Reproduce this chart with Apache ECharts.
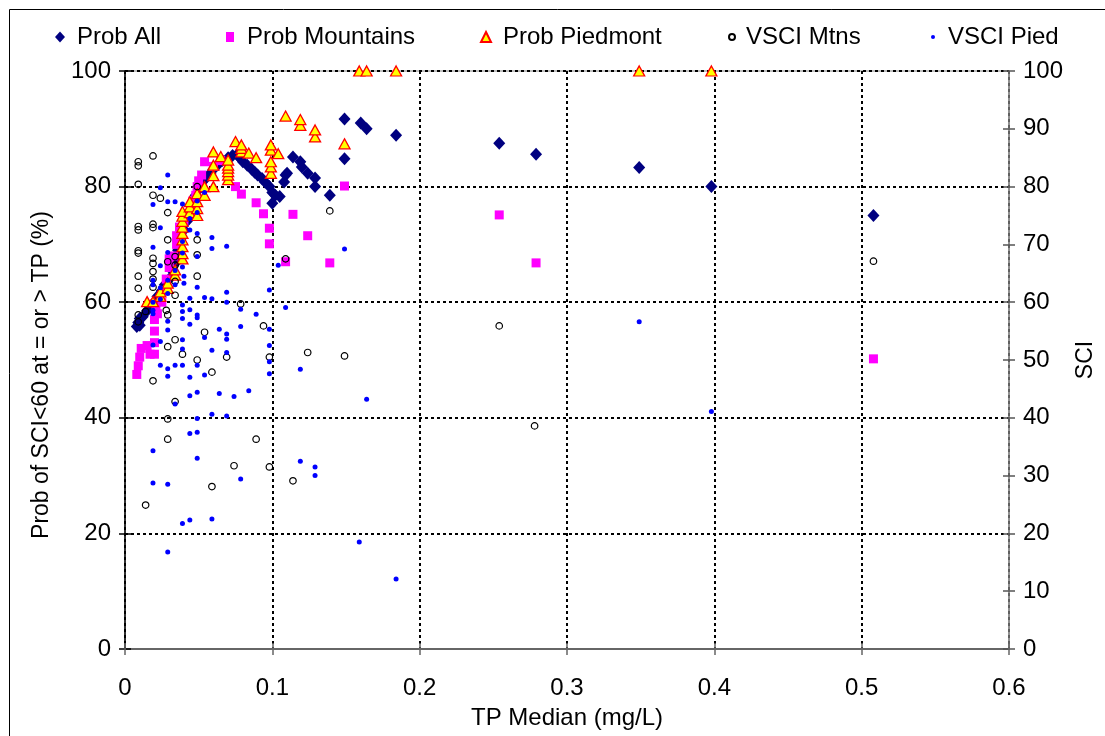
<!DOCTYPE html>
<html>
<head>
<meta charset="utf-8">
<script src="https://cdn.jsdelivr.net/npm/echarts@6/dist/echarts.min.js"></script>
<style>
html,body{margin:0;padding:0;background:#fff;}
#chart{width:1105px;height:736px;}
</style>
</head>
<body>
<div id="chart"></div>
<script>
// ---- Data (x = TP median mg/L, y = value) ----
const seriesNames = ['Prob All', 'Prob Mountains', 'Prob Piedmont', 'VSCI Mtns', 'VSCI Pied'];

const probAll = [
[0.008,55.8],[0.009,56.5],[0.01,57.2],[0.01,56],[0.012,57.5],[0.015,58.5],[0.018,59.5],[0.02,60],[0.022,61],
[0.025,62],[0.027,63],[0.03,64],[0.032,65.5],[0.035,67],[0.036,69],[0.038,71],[0.04,72.5],[0.042,74],
[0.044,75.5],[0.046,77],[0.048,78.5],[0.05,79.5],[0.052,80.8],[0.055,81.5],[0.058,82.3],[0.06,83],
[0.063,83.8],[0.066,84.5],[0.07,85],[0.073,85.4],[0.076,85.5],[0.078,85],[0.08,84.3],[0.083,83.7],
[0.086,83],[0.088,82.5],[0.09,82],[0.093,81.4],[0.095,80.8],[0.098,80],[0.1,79],[0.1,77.1],[0.102,78.5],
[0.105,78.3],[0.108,80.8],[0.109,82],[0.11,82.3],[0.114,85.1],[0.119,84.3],[0.12,83.4],[0.124,82.3],
[0.129,81.5],[0.129,80],[0.139,78.5],[0.149,84.8],[0.149,91.7],[0.16,91],[0.164,90],[0.184,88.9],
[0.254,87.5],[0.279,85.6],[0.349,83.3],[0.398,80],[0.508,75]
];

const probMountains = [
[0.008,47.5],[0.009,49],[0.01,50.5],[0.011,52],[0.015,52.5],[0.017,51],[0.02,51],[0.02,53],[0.02,55],
[0.02,57],[0.021,59],[0.022,58],[0.025,60],[0.027,62],[0.028,64],[0.03,66],[0.03,67.5],[0.033,68],
[0.035,70],[0.035,71.5],[0.037,73],[0.04,74],[0.042,75],[0.045,76],[0.046,77.5],[0.048,78.5],[0.049,80],
[0.05,81],[0.052,82],[0.054,84.3],[0.06,83.5],[0.065,84.5],[0.075,80],[0.079,78.7],[0.089,77.2],
[0.094,75.3],[0.098,72.8],[0.098,70.1],[0.109,67],[0.114,75.2],[0.124,71.5],[0.139,66.8],[0.149,80.1],
[0.254,75.1],[0.279,66.8],[0.508,50.2]
];

const probPiedmont = [
[0.015,60.1],[0.019,60.1],[0.024,61.0],[0.024,61.8],[0.029,62.4],[0.029,63.3],[0.034,64.7],[0.034,65.6],
[0.039,67.5],[0.039,68.4],[0.039,69.6],[0.039,70.8],[0.039,71.9],[0.039,73],[0.039,74],[0.039,74.9],
[0.039,75.7],[0.044,75.5],[0.044,76.5],[0.044,77.4],[0.049,75],[0.049,76.2],[0.049,77.4],[0.049,78.8],
[0.054,78.5],[0.054,80],[0.06,80],[0.06,81.9],[0.06,83.7],[0.06,86],[0.065,85.2],[0.07,81.2],[0.07,82],
[0.07,82.6],[0.07,83.2],[0.07,83.7],[0.07,84.6],[0.075,87.8],[0.079,86],[0.079,86.6],[0.079,87.2],
[0.084,85.8],[0.089,85],[0.099,82.3],[0.099,83.4],[0.099,84.3],[0.099,86.3],[0.099,87.2],[0.104,85.7],
[0.109,92.2],[0.119,90.6],[0.119,91.6],[0.129,88.6],[0.129,89.8],[0.149,87.4],[0.159,100],[0.164,100],
[0.184,100],[0.349,100],[0.398,100]
];

const vsciMtns = [
[0.009,84.3],[0.009,83.6],[0.019,85.3],[0.009,80.4],[0.019,78.5],[0.024,78.0],[0.029,75.5],[0.009,73.1],
[0.009,72.5],[0.019,73.5],[0.019,72.9],[0.029,70.8],[0.049,70.8],[0.049,80.0],[0.009,68.9],[0.009,68.5],
[0.019,67.6],[0.034,67.9],[0.019,66.7],[0.019,65.3],[0.009,64.5],[0.019,64.0],[0.009,62.4],[0.019,62.6],
[0.034,66.4],[0.049,64.5],[0.034,63.6],[0.034,61.2],[0.028,58.6],[0.029,57.8],[0.009,57.8],[0.009,56.6],
[0.014,58.4],[0.029,52.3],[0.034,53.5],[0.039,51.0],[0.049,50.0],[0.054,54.8],[0.019,46.4],[0.059,47.9],
[0.069,50.5],[0.0785,59.7],[0.094,55.9],[0.098,50.5],[0.034,42.8],[0.029,39.8],[0.029,36.3],[0.089,36.3],
[0.109,67.5],[0.074,31.7],[0.098,31.5],[0.059,28.1],[0.114,29.1],[0.014,24.9],[0.139,75.8],[0.124,51.3],
[0.149,50.7],[0.254,55.9],[0.508,67.1],[0.278,38.6],[0.049,68.2],[0.029,67.0]
];

const vsciPied = [
[0.029,82.0],[0.024,79.8],[0.019,76.9],[0.029,77.4],[0.034,77.4],[0.039,77.0],[0.024,72.9],[0.019,69.5],
[0.029,68.6],[0.059,71.2],[0.059,69.3],[0.069,69.7],[0.049,67.9],[0.049,71.9],[0.024,66.3],[0.039,66.1],
[0.04,64.5],[0.029,63.8],[0.049,62.6],[0.04,63.3],[0.019,63.8],[0.019,63.0],[0.019,58.6],[0.019,58.0],
[0.019,52.6],[0.024,53.2],[0.029,56.7],[0.029,55.2],[0.039,57.2],[0.039,58.4],[0.039,59.5],[0.044,60.7],
[0.044,58.7],[0.044,56.2],[0.039,53.5],[0.039,51.9],[0.049,57.8],[0.049,57.3],[0.054,60.8],[0.054,53.9],
[0.059,60.6],[0.059,51.7],[0.024,49.1],[0.029,48.5],[0.029,47.2],[0.034,49.1],[0.039,49.1],[0.044,47.0],
[0.049,49.1],[0.054,47.4],[0.064,44.2],[0.074,43.7],[0.084,44.7],[0.049,44.4],[0.044,43.8],[0.034,42.4],
[0.049,39.9],[0.059,40.6],[0.069,40.3],[0.044,37.3],[0.049,37.5],[0.098,47.6],[0.098,52.5],[0.098,55.3],
[0.098,62.1],[0.119,48.4],[0.089,57.9],[0.0785,58.8],[0.069,60.0],[0.069,61.7],[0.064,55.3],[0.069,54.5],
[0.069,53.6],[0.069,51.3],[0.104,66.4],[0.109,59.1],[0.019,34.3],[0.049,33.0],[0.019,28.7],[0.029,28.5],
[0.0785,29.4],[0.039,21.7],[0.044,22.3],[0.059,22.5],[0.029,16.8],[0.149,69.2],[0.119,32.5],[0.129,31.5],
[0.129,30.0],[0.159,18.5],[0.184,12.1],[0.164,43.2],[0.349,56.6],[0.398,41.1],[0.0785,55.8],[0.098,49.7],
[0.024,60.5],[0.029,61.5],[0.034,63],[0.034,65.5],[0.039,68.5],[0.039,70.5],[0.044,72.5],[0.044,74.5],
[0.049,75.5],[0.049,77.5],[0.054,79],[0.019,60],[0.024,62.5]
];

// ---- Axis settings ----
const xTicks = {min: 0, max: 0.6, interval: 0.1};
const yLeftTicks = {min: 0, max: 100, interval: 20};
const yRightTicks = {min: 0, max: 100, interval: 10};
const xAxisTitle = 'TP Median (mg/L)';
const yLeftTitle = 'Prob of SCI<60 at = or > TP (%)';
const yRightTitle = 'SCI';

const FONT = "'Liberation Sans', Arial, sans-serif";
const chart = echarts.init(document.getElementById('chart'), null, {renderer: 'canvas'});

const gridLine = {show: true, lineStyle: {color: '#000', width: 2, type: [3, 3]}};
const lbl = {color: '#000', fontSize: 24, fontFamily: FONT};

function legendAt(name, left, w, h, pad) {
  return {
    data: [name], left: left, top: 25, itemWidth: w, itemHeight: h, itemGap: 0,
    padding: 0, selectedMode: false,
    textStyle: {color: '#000', fontSize: 24, fontFamily: FONT, lineHeight: 24, padding: [0, 0, 0, pad]}
  };
}

const option = {
  backgroundColor: '#fff',
  animation: false,
  graphic: [{
    type: 'rect', silent: true, z: 100,
    shape: {x: 9.5, y: 9.5, width: 1200, height: 800},
    style: {fill: 'none', stroke: '#000', lineWidth: 1}
  }],
  legend: [
    legendAt(seriesNames[0], 55, 10, 11, 7),
    legendAt(seriesNames[1], 226, 8, 10, 8),
    legendAt(seriesNames[2], 480, 10, 10, 7),
    legendAt(seriesNames[3], 728, 6, 6, 6),
    legendAt(seriesNames[4], 931, 4, 4, 8)
  ],
  grid: {left: 125, right: 96, top: 71, bottom: 87, show: true, borderColor: '#808080', borderWidth: 1},
  xAxis: [{
    type: 'value', min: xTicks.min, max: xTicks.max, interval: xTicks.interval,
    position: 'bottom',
    axisLine: {show: true, onZero: false, lineStyle: {color: '#666', width: 2}},
    axisTick: {show: true, length: 6, lineStyle: {color: '#666', width: 1.5}},
    axisLabel: Object.assign({margin: 27}, lbl),
    splitLine: gridLine,
    name: xAxisTitle, nameLocation: 'middle', nameGap: 57,
    nameTextStyle: {color: '#000', fontSize: 24, fontFamily: FONT}
  }, {
    type: 'value', min: xTicks.min, max: xTicks.max, interval: xTicks.interval,
    position: 'bottom',
    axisLine: {show: false, onZero: false},
    axisTick: {show: true, inside: true, length: 6, lineStyle: {color: '#666', width: 1.5}},
    axisLabel: {show: false}, splitLine: {show: false}
  }],
  yAxis: [{
    type: 'value', min: yLeftTicks.min, max: yLeftTicks.max, interval: yLeftTicks.interval,
    position: 'left',
    axisLine: {show: true, onZero: false, lineStyle: {color: '#000', width: 1.5}},
    axisTick: {show: true, length: 6, lineStyle: {color: '#000', width: 1.5}},
    axisLabel: Object.assign({margin: 14}, lbl),
    splitLine: gridLine,
    name: yLeftTitle, nameLocation: 'middle', nameGap: 72, nameRotate: 90,
    nameTextStyle: {color: '#000', fontSize: 23, fontFamily: FONT, padding: [0, 30, 0, 0]}
  }, {
    type: 'value', min: yRightTicks.min, max: yRightTicks.max, interval: yRightTicks.interval,
    position: 'right',
    axisLine: {show: true, onZero: false, lineStyle: {color: '#808080', width: 1.5}},
    axisTick: {show: true, length: 6, lineStyle: {color: '#555', width: 1.5}},
    axisLabel: Object.assign({margin: 14}, lbl),
    splitLine: {show: false},
    name: yRightTitle, nameLocation: 'middle', nameGap: 64, nameRotate: 90,
    nameTextStyle: {color: '#000', fontSize: 23, fontFamily: FONT}
  }, {
    type: 'value', min: yLeftTicks.min, max: yLeftTicks.max, interval: yLeftTicks.interval,
    position: 'left',
    axisLine: {show: false, onZero: false},
    axisTick: {show: true, inside: true, length: 6, lineStyle: {color: '#000', width: 1.5}},
    axisLabel: {show: false}, splitLine: {show: false}
  }, {
    type: 'value', min: yRightTicks.min, max: yRightTicks.max, interval: yRightTicks.interval,
    position: 'right',
    axisLine: {show: false, onZero: false},
    axisTick: {show: true, inside: true, length: 6, lineStyle: {color: '#555', width: 1.5}},
    axisLabel: {show: false}, splitLine: {show: false}
  }],
  series: [{
    name: seriesNames[0], type: 'scatter', xAxisIndex: 0, yAxisIndex: 0,
    symbol: 'diamond', symbolSize: [12, 13], data: probAll,
    itemStyle: {color: '#000080', opacity: 1}
  }, {
    name: seriesNames[1], type: 'scatter', xAxisIndex: 0, yAxisIndex: 0,
    symbol: 'rect', symbolSize: 9, data: probMountains,
    itemStyle: {color: '#FF00FF', opacity: 1}
  }, {
    name: seriesNames[2], type: 'scatter', xAxisIndex: 0, yAxisIndex: 0,
    symbol: 'triangle', symbolSize: [11, 10], data: probPiedmont,
    itemStyle: {color: '#FFFF00', borderColor: '#FF0000', borderWidth: 1.3, opacity: 1}
  }, {
    name: seriesNames[3], type: 'scatter', xAxisIndex: 0, yAxisIndex: 1,
    symbol: 'circle', symbolSize: 6.5, data: vsciMtns,
    itemStyle: {color: 'rgba(255,255,255,0)', borderColor: '#000', borderWidth: 1.2, opacity: 1}
  }, {
    name: seriesNames[4], type: 'scatter', xAxisIndex: 0, yAxisIndex: 1,
    symbol: 'circle', symbolSize: 5, data: vsciPied,
    itemStyle: {color: '#0000FF', opacity: 1}
  }]
};
chart.setOption(option);
</script>
</body>
</html>
